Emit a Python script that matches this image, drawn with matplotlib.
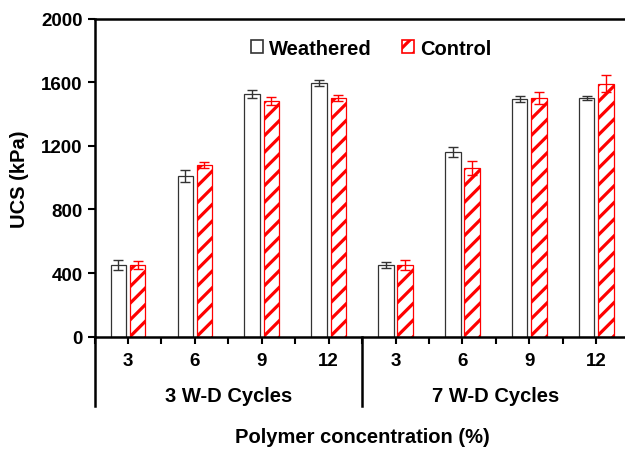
import matplotlib
matplotlib.use("Agg")
import matplotlib.pyplot as plt
import numpy as np
from matplotlib.patches import Patch

plt.rcParams['font.family'] = ['Liberation Sans', 'DejaVu Sans']
plt.rcParams['font.weight'] = 'bold'
plt.rcParams['hatch.linewidth'] = 2.3
plt.rcParams['hatch.color'] = 'red'

concentrations = ["3", "6", "9", "12", "3", "6", "9", "12"]
groups = ["3 W-D Cycles", "7 W-D Cycles"]
weathered = [450, 1010, 1525, 1595, 450, 1160, 1495, 1500]
weathered_err = [30, 35, 25, 20, 20, 30, 20, 15]
control = [450, 1080, 1480, 1500, 450, 1060, 1500, 1590]
control_err = [25, 20, 25, 20, 30, 45, 35, 55]

W, H = 625, 452
fig = plt.figure(figsize=(W / 100, H / 100), dpi=100)
left_px, right_px, top_px, bot_px = 94.5, 629.7, 19.5, 337.7
ax = fig.add_axes([left_px / W, 1 - bot_px / H, (right_px - left_px) / W, (bot_px - top_px) / H])

x = np.arange(len(concentrations))
bw = 0.23
off = 0.143
ax.bar(x - off, weathered, bw, color='white', edgecolor='#333333', linewidth=0.9,
       yerr=weathered_err, error_kw=dict(ecolor='#333333', elinewidth=1, capsize=3.5, capthick=1),
       zorder=2)
ax.bar(x + off, control, bw, color='white', edgecolor='red', linewidth=0.9, hatch='//',
       yerr=control_err, error_kw=dict(ecolor='red', elinewidth=1, capsize=3.5, capthick=1),
       zorder=2)

ax.set_xlim(-0.5, 7.5)
ax.set_ylim(0, 2000)
ax.set_yticks([0, 400, 800, 1200, 1600, 2000])
ax.set_xticks(x)
ax.set_xticklabels(concentrations)
ax.set_xticks(np.arange(-0.5, 8, 1.0), minor=True)
ax.tick_params(axis='both', which='both', direction='out', width=1.5, length=5, labelsize=13.5)
ax.tick_params(axis='x', which='major', pad=6)
for lab in ax.get_xticklabels() + ax.get_yticklabels():
    lab.set_fontweight('bold')

for s in ['left', 'bottom', 'top', 'right']:
    ax.spines[s].set_linewidth(1.8)
    ax.spines[s].set_color('black')

# extended spine + group separator
ext = (337.7 - 407) / (bot_px - top_px)
ax.plot([-0.5, -0.5], [ext, 0], transform=ax.get_xaxis_transform(), color='black', lw=1.8, clip_on=False)
ax.plot([3.5, 3.5], [ext, 0], transform=ax.get_xaxis_transform(), color='black', lw=1.8, clip_on=False)

gy = (337.7 - 396.5) / (bot_px - top_px)
ax.text(1.5, gy, groups[0], transform=ax.get_xaxis_transform(), ha='center', va='center',
        fontsize=14.5, fontweight='bold')
ax.text(5.5, gy, groups[1], transform=ax.get_xaxis_transform(), ha='center', va='center',
        fontsize=14.5, fontweight='bold')

fig.text(362 / W, 1 - 438 / H, 'Polymer concentration (%)', ha='center', va='center',
         fontsize=14.5, fontweight='bold')
fig.text(20 / W, 1 - 179 / H, 'UCS (kPa)', ha='center', va='center', rotation=90,
         fontsize=14.5, fontweight='bold')

handles = [Patch(facecolor='white', edgecolor='#333333', linewidth=1.2, label='Weathered'),
           Patch(facecolor='white', edgecolor='red', linewidth=1.2, hatch='//', label='Control')]
leg = ax.legend(handles=handles, loc='center',
                bbox_to_anchor=((371 - left_px) / (right_px - left_px), (337.7 - 49) / (bot_px - top_px)),
                ncol=2, frameon=False, handlelength=0.6, handleheight=0.6, handletextpad=0.3,
                columnspacing=1.5, prop={'size': 14.5, 'weight': 'bold'})

fig.savefig('out.png', dpi=100)
